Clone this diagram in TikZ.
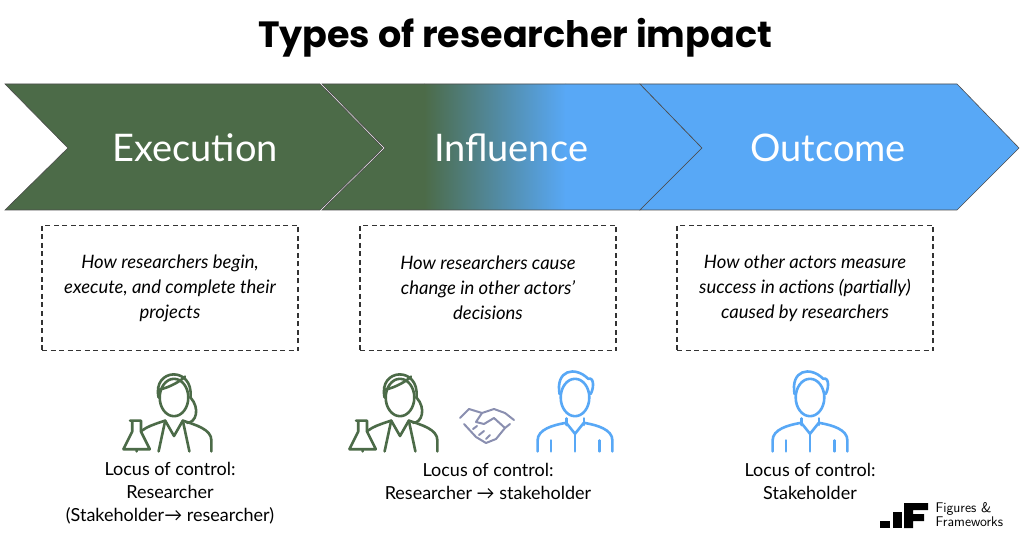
\documentclass[tikz,border=0pt]{standalone}
\usepackage{fontspec}
\setmainfont{Lato}
\newfontfamily\titlefont{Poppins}
\usetikzlibrary{calc}
\definecolor{gr}{HTML}{4C6B48}
\definecolor{bl}{HTML}{58A8F6}
\definecolor{hs}{HTML}{8A8FB0}
\tikzset{
 chev/.style={draw=black!70, line width=0.6pt},
 chevtxt/.style={text=white, font=\fontsize{38}{44}\selectfont},
 dbox/.style={draw=black!80, dash pattern=on 5pt off 3.5pt, line width=1.6pt, minimum width=256pt, minimum height=125pt, align=center, font=\fontsize{18.5}{25}\selectfont\itshape},
 lab/.style={align=center, font=\fontsize{18}{23}\selectfont},
 icon/.style={line width=2.6pt, line cap=round, line join=round},
 person/.pic={
   \draw[icon] (0,-5) ellipse (13 and 17);
   \draw[icon] (-14,-8) .. controls (-18,-30) and (0,-34) .. (12,-22) .. controls (18,-24) and (17,-12) .. (14,-8);
   \draw[icon] (-8,14) -- (-8,20) (8,14) -- (8,20);
   \draw[icon] (-34,44) -- (-34,34) .. controls (-34,24) and (-20,20) .. (-8,18) -- (0,28) -- (8,18) .. controls (20,20) and (34,24) .. (34,34) -- (34,44);
   \draw[icon] (-22,44) -- (-22,34) (22,44) -- (22,34) (0,28) -- (0,44);
 },
 sci/.pic={
   \draw[icon] (0,-5) ellipse (13 and 17);
   \draw[icon] (-14,-5) .. controls (-20,-32) and (18,-34) .. (15,-5) .. controls (24,5) and (20,18) .. (12,18);
   \draw[icon] (-14,-12) .. controls (-4,-14) and (6,-20) .. (10,-24);
   \draw[icon] (-34,44) -- (-34,34) .. controls (-34,24) and (-20,20) .. (-8,16) -- (0,30) -- (8,16) .. controls (20,20) and (34,24) .. (34,34) -- (34,44);
   \draw[icon] (-8,16) -- (-14,44) (8,16) -- (14,44);
   \draw[icon,fill=white] (-40,16) -- (-30,16) (-38,16) -- (-38,26) -- (-46,42) -- (-22,42) -- (-30,26) -- (-30,16);
 },
}
\begin{document}
\begin{tikzpicture}[x=1pt,y=-1pt]
\useasboundingbox (0,0) rectangle (1024,534);
\fill[white] (0,0) rectangle (1024,534);
\node[font=\titlefont\bfseries\fontsize{36.5}{40}\selectfont] (title) at (515,38) {Types of researcher impact};
% chevrons
\fill[gr] (5,84) -- (320,84) -- (383,148) -- (320,210) -- (5,210) -- (68,148) -- cycle;
\draw[chev] (5,84) -- (320,84) -- (383,148) -- (320,210) -- (5,210) -- (68,148) -- cycle;
\begin{scope}
\clip (322,84) -- (640,84) -- (702,148) -- (640,210) -- (322,210) -- (385,148) -- cycle;
\fill[gr] (320,80) rectangle (425,215);
\shade[left color=gr, right color=bl] (424,80) rectangle (566,215);
\fill[bl] (565,80) rectangle (705,215);
\end{scope}
\draw[chev] (322,84) -- (640,84) -- (702,148) -- (640,210) -- (322,210) -- (385,148) -- cycle;
\fill[bl] (640,84) -- (957,84) -- (1019,148) -- (957,210) -- (640,210) -- (702,148) -- cycle;
\draw[chev] (640,84) -- (957,84) -- (1019,148) -- (957,210) -- (640,210) -- (702,148) -- cycle;
\node[chevtxt] (c1) at (195,148) {Execution};
\node[chevtxt] (c2) at (511,148) {Influence};
\node[chevtxt] (c3) at (828,148) {Outcome};
% boxes
\node[dbox] (b1) at (170,288) {How researchers begin,\\execute, and complete their\\projects};
\node[dbox] (b2) at (488,288) {How researchers cause\\change in other actors’\\decisions};
\node[dbox] (b3) at (805,288) {How other actors measure\\success in actions (partially)\\caused by researchers};
% icons
\pic[gr, scale=1.1] at (174,403) {sci};
\pic[gr, scale=1.1] at (400,403) {sci};
\pic[bl, scale=1.1] at (575,403) {person};
\pic[bl, scale=1.1] at (810,403) {person};
\begin{scope}[hs, line width=2pt, line cap=round, line join=round]
\draw (460,418) -- (469,409) -- (482,413) -- (494,409) -- (505,413) -- (514,420);
\draw (464,424) -- (476,437) -- (486,443) -- (496,439) -- (505,428) -- (510,424);
\draw (482,413) -- (476,422) -- (484,424) -- (494,418) -- (505,428);
\draw (473,429) -- (477,426) (479,435) -- (484,431) (486,439) -- (490,435);
\end{scope}
% labels
\node[lab] (l1) at (170,493) {Locus of control:\\Researcher\\(Stakeholder→ researcher)};
\node[lab] (l2) at (488,481) {Locus of control:\\Researcher → stakeholder};
\node[lab] (l3) at (810,481) {Locus of control:\\Stakeholder};
% logo
\fill (880,521) rectangle (890,528);
\fill (893,512) rectangle (902,528);
\fill (904,503) rectangle (928,510) (904,510) rectangle (913,528) (913,514) rectangle (924,521);
\node[anchor=west, align=left, font=\sffamily\fontsize{14}{14}\selectfont] (logo) at (932,515) {Figures \&\\Frameworks};
\end{tikzpicture}
\end{document}
